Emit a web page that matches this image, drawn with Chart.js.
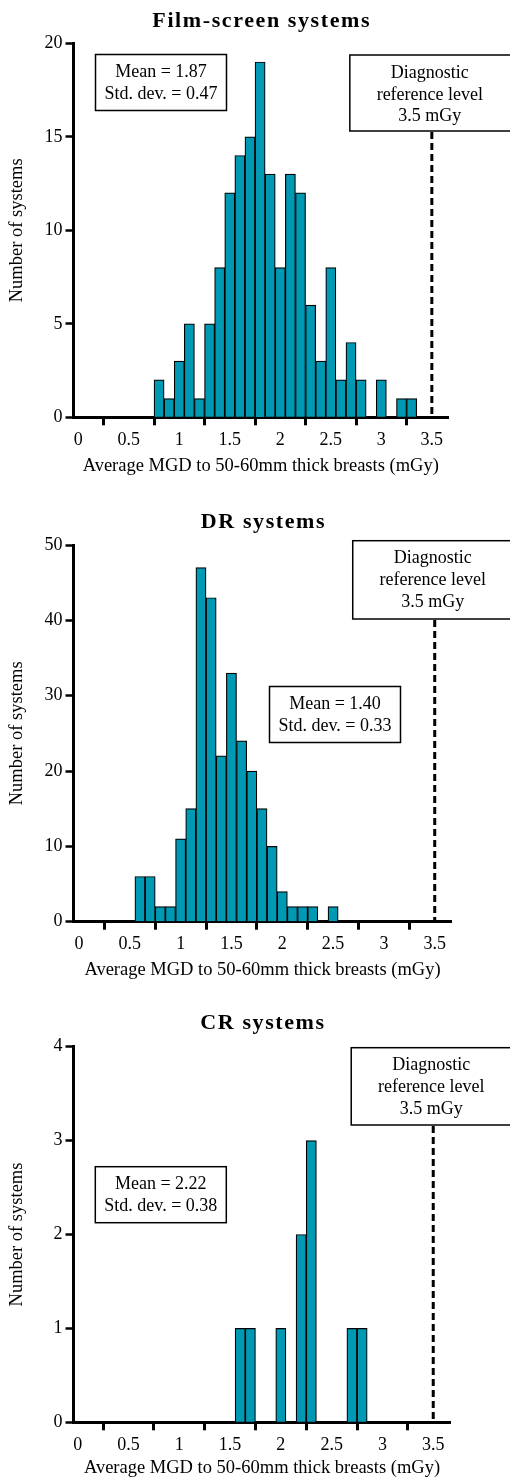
<!DOCTYPE html>
<html>
<head>
<meta charset="utf-8">
<title>MGD histograms</title>
<script src="https://cdn.jsdelivr.net/npm/chart.js"></script>
<style>
  html, body { margin: 0; padding: 0; background: #fff; overflow: hidden; }
  #page { position: relative; width: 510px; height: 1482px; }
  canvas { position: absolute; left: 0; }
</style>
</head>
<body>
<div id="page">
  <canvas id="filmChart"></canvas>
  <canvas id="drChart"></canvas>
  <canvas id="crChart"></canvas>
</div>
<script>
const xTickValues = [0, 0.5, 1, 1.5, 2, 2.5, 3, 3.5];
const xAxisTitle = "Average MGD to 50-60mm thick breasts (mGy)";
const yAxisTitle = "Number of systems";
const referenceLevel = 3.5;
const referenceText = ["Diagnostic", "reference level", "3.5 mGy"];

// film-screen
const filmTitle = "Film-screen systems";
const filmBins = [0.8, 0.9, 1.0, 1.1, 1.2, 1.3, 1.4, 1.5, 1.6, 1.7, 1.8, 1.9, 2.0,
  2.1, 2.2, 2.3, 2.4, 2.5, 2.6, 2.7, 2.8, 2.9, 3.0, 3.1, 3.2, 3.3];
const filmCounts = [2, 1, 3, 5, 1, 5, 8, 12, 14, 15, 19, 13, 8,
  13, 12, 6, 3, 8, 2, 4, 2, 0, 2, 0, 1, 1];
const filmYTicks = [0, 5, 10, 15, 20];
const filmStats = ["Mean = 1.87", "Std. dev. = 0.47"];

// DR
const drTitle = "DR systems";
const drBins = [0.6, 0.7, 0.8, 0.9, 1.0, 1.1, 1.2, 1.3, 1.4, 1.5, 1.6, 1.7, 1.8,
  1.9, 2.0, 2.1, 2.2, 2.3, 2.4, 2.5];
const drCounts = [6, 6, 2, 2, 11, 15, 47, 43, 22, 33, 24, 20, 15,
  10, 4, 2, 2, 2, 0, 2];
const drYTicks = [0, 10, 20, 30, 40, 50];
const drStats = ["Mean = 1.40", "Std. dev. = 0.33"];

// CR
const crTitle = "CR systems";
const crBins = [1.6, 1.7, 2.0, 2.2, 2.3, 2.7, 2.8];
const crCounts = [1, 1, 1, 2, 3, 1, 1];
const crYTicks = [0, 1, 2, 3, 4];
const crStats = ["Mean = 2.22", "Std. dev. = 0.38"];

const serif = '"Liberation Serif", "Times New Roman", serif';
const barColor = "#0099b4";

const boxPlugin = {
  id: "boxes",
  afterDraw(chart, args, opts) {
    const { ctx, chartArea, scales } = chart;
    ctx.save();

    ctx.font = "bold 22px " + serif;
    ctx.letterSpacing = "1.6px";
    ctx.fillStyle = "#000";
    ctx.textAlign = "center";
    ctx.textBaseline = "alphabetic";
    ctx.fillText(opts.title, (chartArea.left + chartArea.right) / 2 + 1, opts.titleY);
    ctx.letterSpacing = "0px";

    ctx.font = "18px " + serif;
    ctx.textBaseline = "middle";
    ctx.lineWidth = 1.5;
    ctx.strokeStyle = "#000";

    const drawBox = (left, top, width, height, lines, textX) => {
      ctx.fillStyle = "#fff";
      ctx.fillRect(left, top, width, height);
      ctx.strokeRect(left, top, width, height);
      ctx.fillStyle = "#000";
      lines.forEach((t, i) => ctx.fillText(t, textX, top + 18 + i * 21.8));
    };

    const s = opts.stats;
    drawBox(s.left, s.top, 131, 56, s.lines, s.left + 65.5);

    const refX = scales.x.getPixelForValue(referenceLevel);
    const r = opts.ref;
    drawBox(refX - 82, r.top, 164, r.height, referenceText, refX - 2);

    ctx.setLineDash([7, 4]);
    ctx.lineWidth = 3;
    ctx.beginPath();
    ctx.moveTo(refX, r.top + r.height + 1);
    ctx.lineTo(refX, scales.y.getPixelForValue(0));
    ctx.stroke();
    ctx.restore();
  }
};

const makeChart = (id, cfg) => {
  const canvas = document.getElementById(id);
  canvas.width = 510;
  canvas.height = cfg.height;
  canvas.style.top = cfg.top + "px";

  const points = cfg.bins
    .map((x, i) => ({ x: x, y: cfg.counts[i] }))
    .filter((p) => p.y > 0);

  return new Chart(canvas, {
    type: "bar",
    data: {
      datasets: [{
        data: points,
        backgroundColor: barColor,
        borderColor: "#000",
        borderWidth: 1.2,
        barPercentage: 1,
        categoryPercentage: 1
      }]
    },
    options: {
      responsive: false,
      animation: false,
      layout: { padding: { top: cfg.plotTop, right: 510 - cfg.plotRight, left: 0, bottom: 0 } },
      plugins: {
        legend: { display: false },
        tooltip: { enabled: false },
        boxes: { title: cfg.title, titleY: cfg.titleY, stats: cfg.stats, ref: cfg.ref }
      },
      scales: {
        x: {
          type: "linear",
          min: cfg.xMin,
          max: cfg.xMax,
          offset: false,
          afterBuildTicks: (s) => { s.ticks = xTickValues.map((v) => ({ value: v })); },
          afterFit: (s) => { s.height = cfg.height - cfg.plotBottom; },
          grid: { drawOnChartArea: false, drawTicks: true, tickLength: 8, tickWidth: 3, tickColor: "#000" },
          border: { display: true, width: 3, color: "#000" },
          ticks: {
            color: "#000", font: { family: serif, size: 18 }, padding: 4,
            maxRotation: 0, autoSkip: false, callback: (v) => String(v)
          },
          title: {
            display: true, text: xAxisTitle, color: "#000",
            font: { family: serif, size: 18.5 }, padding: { top: 0, bottom: 3 }
          }
        },
        y: {
          min: 0,
          max: cfg.yTicks[cfg.yTicks.length - 1],
          afterBuildTicks: (s) => { s.ticks = cfg.yTicks.map((v) => ({ value: v })); },
          afterFit: (s) => { s.width = 73.5; },
          grid: { drawOnChartArea: false, drawTicks: true, tickLength: 8, tickWidth: 2.5, tickColor: "#000" },
          border: { display: true, width: 3, color: "#000" },
          ticks: { color: "#000", font: { family: serif, size: 18 }, padding: 3, callback: (v) => String(v) },
          title: {
            display: true, text: yAxisTitle, color: "#000",
            font: { family: serif, size: 18.5 }, padding: { top: 6, bottom: 0 }
          }
        }
      }
    },
    plugins: [boxPlugin]
  });
};

makeChart("filmChart", {
  top: 0, height: 480, plotTop: 43.3, plotBottom: 417.3, plotRight: 448,
  xMin: -0.047, xMax: 3.66, titleY: 27.3,
  bins: filmBins, counts: filmCounts, yTicks: filmYTicks, title: filmTitle,
  stats: { left: 95.5, top: 54.5, lines: filmStats },
  ref: { top: 55, height: 76 }
});

makeChart("drChart", {
  top: 502, height: 482, plotTop: 43, plotBottom: 419.7, plotRight: 451.5,
  xMin: -0.054, xMax: 3.665, titleY: 25.5,
  bins: drBins, counts: drCounts, yTicks: drYTicks, title: drTitle,
  stats: { left: 269.5, top: 184.5, lines: drStats },
  ref: { top: 38.7, height: 78.3 }
});

makeChart("crChart", {
  top: 1003, height: 479, plotTop: 43.7, plotBottom: 419.3, plotRight: 450.5,
  xMin: -0.041, xMax: 3.67, titleY: 26,
  bins: crBins, counts: crCounts, yTicks: crYTicks, title: crTitle,
  stats: { left: 95.3, top: 163.7, lines: crStats },
  ref: { top: 44.7, height: 77.3 }
});
</script>
</body>
</html>
